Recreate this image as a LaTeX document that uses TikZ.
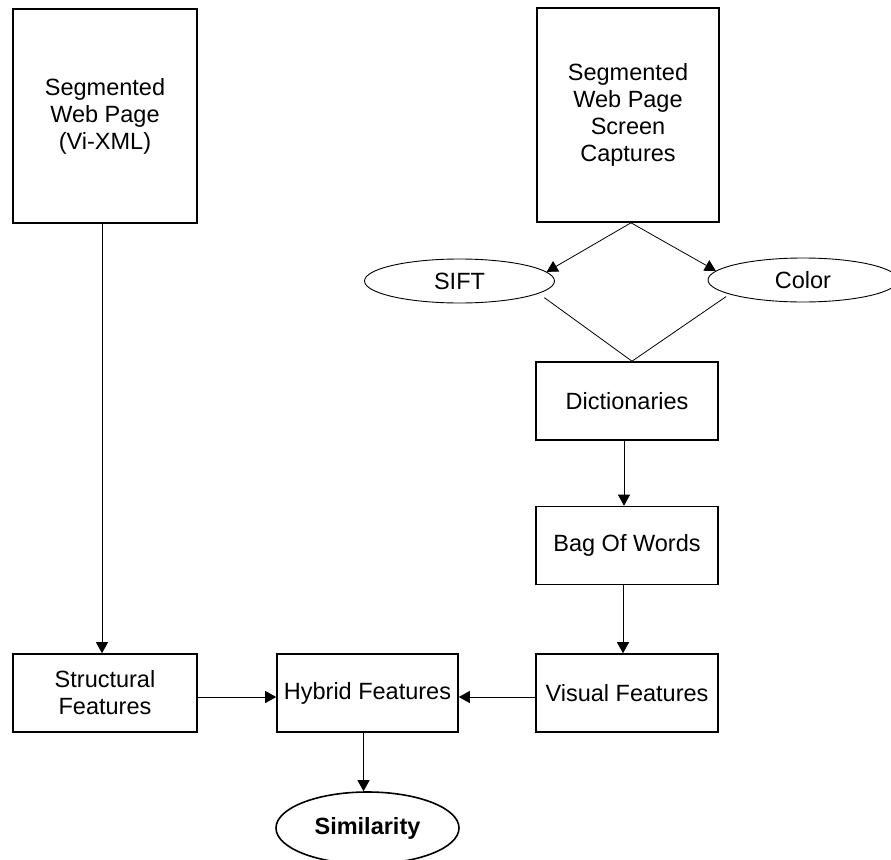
\documentclass[tikz,border=0pt]{standalone}
\usepackage{fontspec}
\setmainfont{Liberation Sans}
\usetikzlibrary{arrows.meta,shapes.geometric,calc}
\begin{document}
\begin{tikzpicture}[x=1pt,y=-1pt,
  every node/.style={font=\fontsize{23.5}{27}\selectfont, align=center, inner sep=0pt},
  box/.style={draw, line width=1.6pt, rectangle, minimum width=182pt, minimum height=78pt},
  tallbox/.style={box, minimum width=184pt, minimum height=214pt},
  oval/.style={draw, ellipse, line width=0.9pt, minimum width=190pt, minimum height=44pt},
  result/.style={draw, ellipse, line width=1.6pt, minimum width=183pt, minimum height=72pt,
    font=\fontsize{23.5}{27}\selectfont\bfseries},
  link/.style={line width=0.8pt},
  flow/.style={link, -{Triangle[length=11pt,width=12pt]}}
]
\useasboundingbox (0,0) rectangle (891,859);

% sources
\node[tallbox] (xml) at (105,116) {Segmented\\Web Page\\(Vi-XML)};
\node[tallbox, minimum width=182pt] (shots) at (628,115) {Segmented\\Web Page\\Screen\\Captures};

% visual descriptors
\node[oval] (sift) at (459.5,281) {SIFT};
\node[oval] (color) at (803,280) {Color};

% visual pipeline
\node[box] (dict) at (627,401) {Dictionaries};
\node[box] (bow) at (627,545.5) {Bag Of Words};
\node[box] (visual) at (627,693) {Visual Features};

% combination
\node[box, minimum width=184pt] (struct) at (105,693) {Structural\\Features};
\node[box, minimum width=181pt] (hybrid) at (367.5,693) {Hybrid Features};
\node[result] (sim) at (367.5,828) {Similarity};

% connectors
\draw[flow] ([xshift=-3pt]xml.south) -- ([xshift=-3pt]struct.north);
\draw[flow] ([xshift=3pt]shots.south) -- (sift.6);
\draw[flow] ([xshift=3pt]shots.south) -- (color.174);
\draw[link, shorten >=7pt] ([xshift=5pt]dict.north) -- (sift.-9);
\draw[link, shorten >=4pt] ([xshift=5pt]dict.north) -- (color.191);
\draw[flow] ([xshift=-3pt]dict.south) -- ([xshift=-3pt]bow.north);
\draw[flow] ([xshift=-4pt]bow.south) -- ([xshift=-4pt]visual.north);
\draw[flow] ([yshift=-4pt]struct.east) -- ([yshift=-4pt]hybrid.west);
\draw[flow] ([yshift=-4pt]visual.west) -- ([yshift=-4pt]hybrid.east);
\draw[flow] ([xshift=-4pt]hybrid.south) -- ([xshift=-4pt]sim.north);
\end{tikzpicture}
\end{document}
